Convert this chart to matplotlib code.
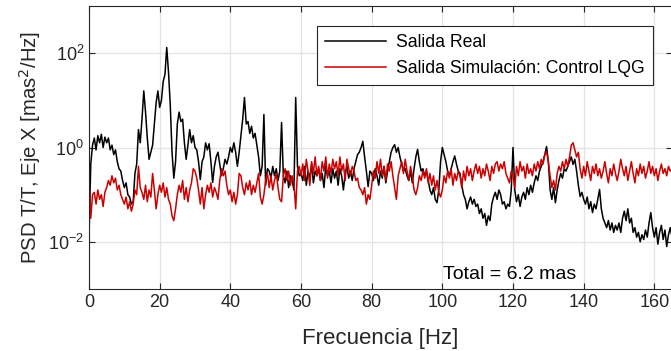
import numpy as np
import matplotlib
matplotlib.use('Agg')
import matplotlib.pyplot as plt
from matplotlib.ticker import NullLocator

plt.rcParams['font.family'] = ['Liberation Sans', 'DejaVu Sans']

# PSD, log10(mas^2/Hz), one value every 0.5 Hz from 0 to 165 Hz
real_log = [
    -1.9, -0.35, 0.05, 0.2, -0.05, 0.25, 0.1, 0.28, 0.0, 0.22,
    0.1, 0.2, -0.05, 0.05, -0.15, -0.05, -0.3, -0.45, -0.5, -0.7,
    -0.85, -0.75, -1.0, -1.05, -1.2, -1.15, -0.55, -0.35, 0.38, 0.1,
    0.6, 1.2, 0.75, 0.2, -0.25, -0.1, 0.05, 0.5, 0.95, 1.2,
    0.85, 1.0, 1.4, 1.55, 2.12, 1.6, 0.9, -0.1, -0.65, -0.3,
    0.5, 0.75, 0.55, 0.6, 0.1, -0.25, 0.05, 0.38, 0.1, 0.25,
    0.0, -0.05, -0.3, -0.68, -0.3, -0.2, 0.1, -0.05, 0.08, -0.3,
    -0.74, -0.4, -0.2, -0.1, -0.35, -0.6, -0.45, -0.25, -0.35, -0.2,
    0.0, -0.1, 0.1, -0.1, -0.4, -0.1, 0.25, 0.6, 1.06, 0.5,
    0.55, 0.3, 0.45, 0.2, 0.3, 0.05, -0.2, -0.6, -0.4, 0.7,
    -0.8, -0.45, -0.5, -0.65, -0.4, -0.6, -0.45, -0.7, -0.5, 0.53,
    -0.6, -0.75, -0.5, -0.85, -0.6, -0.7, -0.9, 1.06, -0.4, -0.6,
    -0.55, -0.7, -0.4, -0.8, -0.5, -0.65, -0.35, -0.75, -0.5, -0.6,
    -0.45, -0.7, -0.55, -0.85, -0.4, -0.6, -0.5, -0.75, -0.45, -0.65,
    -0.5, -0.8, -0.45, -0.6, -0.9, -0.55, -0.4, -0.65, -0.5, -0.7,
    -0.45, -0.3, -0.15, -0.1, 0.0, 0.13, -0.2, -0.5, -0.83, -0.5,
    -0.55, -0.7, -0.45, -0.6, -0.8, -0.5, -0.65, -0.4, -0.75, -0.5,
    -0.3, -0.1, 0.0, 0.06, -0.1, 0.0, -0.2, -0.35, -0.5, -0.45,
    -0.6, -0.7, -0.5, -0.75, -0.45, -0.2, -0.04, -0.3, -0.5, -0.45,
    -0.6, -0.5, -0.7, -0.9, -1.0, -0.85, -1.1, -1.17, -0.9, -0.3,
    0.0, -0.15, -0.3, -0.5, -0.6, -0.45, -0.3, -0.18, -0.35, -0.5,
    -0.55, -0.8, -1.0, -1.1, -1.3, -1.15, -1.05, -1.2, -1.1, -1.25,
    -1.2, -1.4, -1.3, -1.5, -1.4, -1.65, -1.45, -1.55, -1.2, -1.05,
    -0.95, -1.1, -0.9, -1.0, -1.2, -1.15, -1.3, -1.2, -1.25, -0.9,
    0.0, -0.9, -1.15, -1.0, -1.25, -1.05, -0.95, -1.1, -0.85, -1.0,
    -0.8, -0.95, -0.75, -0.6, -0.7, -0.5, -0.4, -0.3, -0.15, 0.02,
    -0.3, -0.9, -1.1, -0.85, -1.17, -0.9, -0.7, -0.55, -0.65, -0.45,
    -0.5, -0.4, -0.3, -0.2, -0.36, -0.25, -0.5, -0.8, -1.04, -0.95,
    -1.1, -1.2, -1.05, -1.3, -1.15, -1.38, -1.2, -1.3, -1.1, -0.89,
    -1.3, -1.5, -1.6, -1.7, -1.55, -1.75, -1.6, -1.8, -1.65, -1.75,
    -1.6, -1.8, -1.5, -1.35, -1.55, -1.3, -1.6, -1.5, -1.8, -1.7,
    -1.9, -1.8, -2.0, -1.85, -1.95, -1.75, -1.9, -1.6, -1.38, -1.7,
    -1.9, -1.7, -2.05, -1.8, -1.65, -1.95, -1.75, -2.1, -1.85, -1.7,
    -1.9,
]

sim_log = [
    -0.61, -1.5, -1.0, -0.95, -1.2, -0.9, -1.1, -1.0, -1.25, -0.95,
    -0.85, -0.7, -0.8, -0.6, -0.75, -0.65, -0.9, -0.8, -1.0, -1.1,
    -1.2, -1.05, -1.3, -1.15, -1.35, -1.2, -0.9, -1.0, -0.4, -0.85,
    -0.95, -1.1, -0.8, -1.15, -0.9, -1.05, -0.55, -0.9, -1.3, -1.0,
    -0.8, -0.95, -0.75, -1.05, -0.85, -1.1, -1.2, -1.45, -1.55, -1.3,
    -1.0, -0.8, -0.95, -0.7, -1.1, -0.85, -1.15, -0.9, -0.75, -0.45,
    -0.5, -0.65, -0.9, -1.2, -0.85, -1.3, -1.0, -0.8, -0.95, -0.75,
    -1.05, -0.85, -0.95, -1.1, -0.7, -0.45, -0.6, -0.5, -0.8, -1.0,
    -0.9, -1.15, -0.95, -1.2, -1.0, -0.55, -0.6, -0.85, -1.0, -0.75,
    -0.9, -0.7, -1.0, -0.8, -0.95, -0.75, -0.55, -1.05, -1.2, -1.0,
    -0.7, -0.55, -0.85, -0.6, -0.9, -0.7, -0.55, -0.85, -1.1, -1.15,
    -0.6, -0.45, -0.7, -0.5, -0.8, -0.6, -0.75, -1.3, -0.5, -0.4,
    -0.6, -0.35, -0.7, -0.25, -0.5, -0.8, -0.3, -0.55, -0.2, -0.6,
    -0.4, -0.7, -0.3, -0.5, -0.2, -0.65, -0.35, -0.55, -0.25, -0.45,
    -0.3, -0.6, -0.2, -0.5, -0.35, -0.7, -0.25, -0.45, -0.6, -0.4,
    -0.5, -0.7, -0.65, -0.85, -0.9, -1.0, -0.85, -1.2, -1.0, -1.1,
    -0.8, -0.5, -0.65, -0.3, -0.55, -0.25, -0.6, -0.4, -0.7, -0.35,
    -0.5, -0.3, -0.6, -0.85, -1.1, -0.6, -0.45, -0.3, -0.55, -0.25,
    -0.5, -0.7, -0.4, -0.6, -0.9, -1.0, -0.85, -0.6, -0.7, -0.5,
    -0.65, -0.45, -0.75, -0.55, -0.8, -0.6, -0.9, -0.7, -0.95, -1.05,
    -0.9, -0.6, -0.75, -0.5, -0.65, -0.45, -0.8, -0.55, -0.7, -0.5,
    -0.6, -0.85, -0.5, -0.7, -0.4, -0.6, -0.45, -0.7, -0.5, -0.35,
    -0.55, -0.4, -0.65, -0.45, -0.6, -0.35, -0.5, -0.7, -0.4, -0.55,
    -0.35, -0.3, -0.5, -0.35, -0.45, -0.3, -0.55, -0.65, -0.75, -0.5,
    -0.6, -0.85, -0.4, -0.6, -0.3, -0.5, -0.4, -0.65, -0.35, -0.55,
    -0.45, -0.6, -0.35, -0.5, -0.3, -0.45, -0.25, -0.35, -0.15, -0.09,
    -0.3, -0.6, -0.85, -0.7, -0.9, -0.55, -0.4, -0.5, -0.3, -0.45,
    -0.25, -0.4, -0.2, 0.05, 0.1, -0.05, -0.2, -0.1, -0.45, -0.65,
    -0.4, -0.6, -0.3, -0.5, -0.7, -0.4, -0.55, -0.35, -0.6, -0.45,
    -0.65, -0.5, -0.3, -0.55, -0.75, -0.45, -0.6, -0.35, -0.55, -0.7,
    -0.5, -0.25, -0.45, -0.6, -0.4, -0.7, -0.5, -0.3, -0.55, -0.75,
    -0.45, -0.6, -0.35, -0.55, -0.4, -0.65, -0.5, -0.3, -0.55, -0.4,
    -0.6, -0.45, -0.7, -0.5, -0.35, -0.55, -0.45, -0.6, -0.4, -0.5,
    -0.45,
]

df = 0.5  # Hz between points
freq = np.arange(len(real_log)) * df
real_psd = 10.0 ** np.array(real_log)
sim_psd = 10.0 ** np.array(sim_log)

labels = ['Salida Real', 'Salida Simulación: Control LQG']
total_txt = 'Total = 6.2 mas'

fig = plt.figure(figsize=(6.71, 3.51), dpi=100)
ax = fig.add_axes([89 / 671, 62 / 351, 583 / 671, 283 / 351])

ax.semilogy(freq, real_psd, color='k', lw=1.1, label=labels[0])
ax.semilogy(freq, sim_psd, color='#cc0000', lw=1.1, label=labels[1])

ax.set_xlim(0, 165)
ax.set_ylim(1e-3, 1e3)
ax.set_xticks(np.arange(0, 161, 20))
ax.set_yticks([1e-2, 1e0, 1e2])
ax.yaxis.set_minor_locator(NullLocator())
ax.grid(True, color='#e3e3e3', lw=0.9)
ax.set_axisbelow(True)
ax.tick_params(direction='in', top=True, right=True, labelsize=13,
               colors='#262626', length=4)
for s in ax.spines.values():
    s.set_color('#262626')
    s.set_linewidth(0.8)

ax.set_xlabel('Frecuencia [Hz]', fontsize=16, color='#262626', labelpad=12)
ax.set_ylabel('PSD T/T, Eje X [mas$^2$/Hz]', fontsize=14.6, color='#262626')

leg = ax.legend(loc='upper right', bbox_to_anchor=(0.967, 0.929),
                borderaxespad=0, fancybox=False, fontsize=12.7,
                handlelength=3.5, handletextpad=0.55, labelspacing=0.5,
                borderpad=0.45, framealpha=1)
leg.get_frame().set_edgecolor('#262626')
leg.get_frame().set_linewidth(0.8)

ax.text(0.608, 0.05, total_txt, transform=ax.transAxes, fontsize=14,
        va='center', ha='left', color='k')

fig.savefig('out.png', dpi=100)
